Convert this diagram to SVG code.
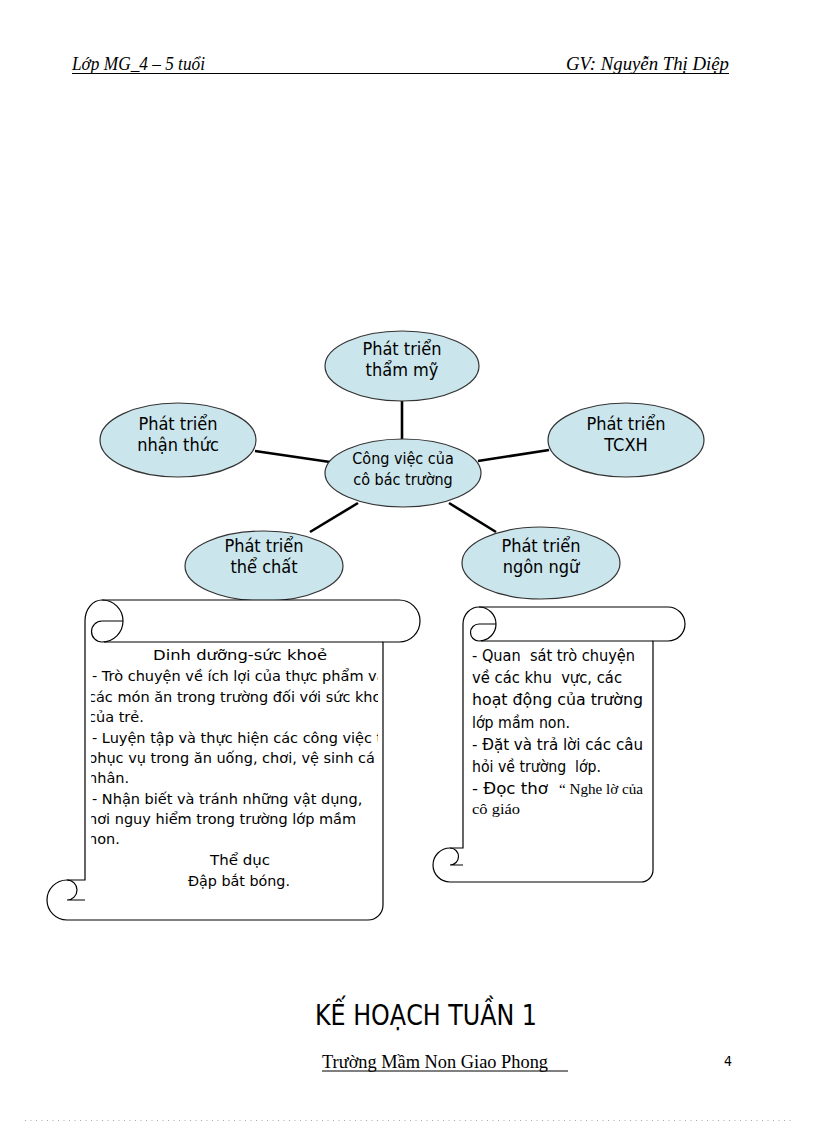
<svg xmlns="http://www.w3.org/2000/svg" width="816" height="1123" viewBox="0 0 816 1123">
<defs>
<style>
.bg{fill:#ffffff}
.node ellipse{fill:#cae5eb;stroke:#333;stroke-width:1.2}
.nt{font-family:"DejaVu Sans Condensed","DejaVu Sans",sans-serif;font-stretch:condensed;font-size:18px;fill:#000;text-anchor:middle}
.ct{font-size:16px}
.conn line{stroke:#000;stroke-width:2.6}
.scroll path{fill:none;stroke:#000;stroke-width:1.2}
.scroll path.body{fill:#fff}
.st{font-family:"DejaVu Sans",sans-serif;font-size:14.5px;fill:#000}
.st2{font-family:"DejaVu Sans Condensed","DejaVu Sans",sans-serif;font-stretch:condensed;font-size:16px;fill:#000}
.tm{font-family:"Liberation Serif",serif;font-size:15px;font-stretch:normal}
.hd{font-family:"Liberation Serif",serif;font-style:italic;font-size:18px;fill:#000}
</style>
<clipPath id="clipL"><rect x="91" y="644" width="287" height="272"/></clipPath>
</defs>
<rect class="bg" x="0" y="0" width="816" height="1123"/>

<g id="header">
<text class="hd" x="72" y="70" textLength="133" lengthAdjust="spacingAndGlyphs">Lớp MG_4 – 5 tuổi</text>
<text class="hd" x="566" y="70" textLength="163" lengthAdjust="spacingAndGlyphs">GV: Nguyễn Thị Diệp</text>
<line x1="72" y1="73.5" x2="729" y2="73.5" stroke="#000" stroke-width="1"/>
</g>

<g id="connectors" class="conn">
<line x1="402" y1="400" x2="402" y2="440"/>
<line x1="255" y1="451" x2="330" y2="462"/>
<line x1="478" y1="461" x2="549" y2="450"/>
<line x1="310" y1="532" x2="358" y2="503"/>
<line x1="449" y1="503" x2="496" y2="532"/>
</g>

<g id="node-center" class="node">
<ellipse cx="403" cy="473" rx="78" ry="34"/>
<text class="nt ct" x="403" y="464">Công việc của</text>
<text class="nt ct" x="403" y="485">cô bác trường</text>
</g>
<g id="node-thammy" class="node">
<ellipse cx="402" cy="366" rx="77" ry="35"/>
<text class="nt" x="402" y="355">Phát triển</text>
<text class="nt" x="402" y="376">thẩm mỹ</text>
</g>
<g id="node-nhanthuc" class="node">
<ellipse cx="178" cy="440" rx="78" ry="37"/>
<text class="nt" x="178" y="430">Phát triển</text>
<text class="nt" x="178" y="451">nhận thức</text>
</g>
<g id="node-tcxh" class="node">
<ellipse cx="626" cy="440" rx="78" ry="37"/>
<text class="nt" x="626" y="430">Phát triển</text>
<text class="nt" x="626" y="451">TCXH</text>
</g>
<g id="node-thechat" class="node">
<ellipse cx="264" cy="566" rx="79" ry="35"/>
<text class="nt" x="264" y="552">Phát triển</text>
<text class="nt" x="264" y="573">thể chất</text>
</g>
<g id="node-ngonngu" class="node">
<ellipse cx="541" cy="563" rx="79" ry="36"/>
<text class="nt" x="541" y="552">Phát triển</text>
<text class="nt" x="541" y="573">ngôn ngữ</text>
</g>

<g id="scroll-left" class="scroll">
<path class="body" d="M102,600 L399,600 A21,21 0 0 1 399,642 L383,642 L383,905 A15,15 0 0 1 368,920 L67,920 A20,20 0 0 1 67,880 L85,880 L85,621 A17,21 0 0 1 102,600 Z"/>
<path d="M104,642 L383,642"/>
<path d="M102,600 A21,21 0 0 1 102,642 A10.5,10.5 0 0 1 102,621 L123,621"/>
<path d="M67,880 A10,10 0 0 1 67,900 L85,900"/>
<g clip-path="url(#clipL)">
<text class="st" x="153" y="660" font-size="18" textLength="174" lengthAdjust="spacingAndGlyphs">Dinh dưỡng-sức khoẻ</text>
<text class="st" x="92" y="681">- Trò chuyện về ích lợi của thực phẩm và</text>
<text class="st" x="88" y="702">các món ăn trong trường đối với sức khoẻ</text>
<text class="st" x="88" y="722">của trẻ.</text>
<text class="st" x="92" y="743">- Luyện tập và thực hiện các công việc tự</text>
<text class="st" x="88" y="763">phục vụ trong ăn uống, chơi, vệ sinh cá</text>
<text class="st" x="88" y="783">nhân.</text>
<text class="st" x="92" y="804">- Nhận biết và tránh những vật dụng,</text>
<text class="st" x="88" y="824">nơi nguy hiểm trong trường lớp mầm</text>
<text class="st" x="88" y="844">non.</text>
<text class="st" x="210" y="865" font-size="16" textLength="60" lengthAdjust="spacingAndGlyphs">Thể dục</text>
<text class="st" x="188" y="886" textLength="102" lengthAdjust="spacingAndGlyphs">Đập bắt bóng.</text>
</g>
</g>

<g id="scroll-right" class="scroll">
<path class="body" d="M479,607 L668,607 A17,17 0 0 1 668,641 L653,641 L653,870 A12,12 0 0 1 641,882 L450,882 A17,17 0 0 1 450,848 L463,848 L463,624 A16,17 0 0 1 479,607 Z"/>
<path d="M481,641 L653,641"/>
<path d="M479,607 A17,17 0 0 1 479,641 A8.5,8.5 0 0 1 479,624 L496,624"/>
<path d="M450,848 A8.5,8.5 0 0 1 450,865 L463,865"/>
<text class="st2" x="472" y="661" xml:space="preserve" textLength="163" lengthAdjust="spacingAndGlyphs">- Quan  sát trò chuyện</text>
<text class="st2" x="472" y="683" xml:space="preserve" textLength="150" lengthAdjust="spacingAndGlyphs">về các khu  vực, các</text>
<text class="st2" x="472" y="705" textLength="171" lengthAdjust="spacingAndGlyphs">hoạt động của trường</text>
<text class="st2" x="472" y="728" textLength="98" lengthAdjust="spacingAndGlyphs">lớp mầm non.</text>
<text class="st2" x="472" y="750" textLength="171" lengthAdjust="spacingAndGlyphs">- Đặt và trả lời các câu</text>
<text class="st2" x="472" y="772" xml:space="preserve" textLength="129" lengthAdjust="spacingAndGlyphs">hỏi về trường  lớp.</text>
<text class="st2" x="472" y="794" textLength="76" lengthAdjust="spacingAndGlyphs">- Đọc thơ</text>
<text class="tm" x="559" y="794" textLength="84" lengthAdjust="spacingAndGlyphs">“ Nghe lờ của</text>
<text class="tm" x="472" y="814" textLength="48" lengthAdjust="spacingAndGlyphs">cô giáo</text>
</g>

<g id="footer">
<text x="315" y="1025" font-family="DejaVu Sans Condensed,DejaVu Sans,sans-serif" font-stretch="condensed" font-size="29" fill="#000" textLength="222" lengthAdjust="spacingAndGlyphs">KẾ HOẠCH TUẦN 1</text>
<text x="322" y="1068" font-family="Liberation Serif,serif" font-size="18" fill="#000" textLength="226" lengthAdjust="spacingAndGlyphs">Trường Mầm Non Giao Phong</text>
<line x1="322" y1="1071" x2="568" y2="1071" stroke="#000" stroke-width="1"/>
<text x="724" y="1066" font-family="DejaVu Sans Condensed,DejaVu Sans,sans-serif" font-stretch="condensed" font-size="14" fill="#000">4</text>
<line x1="25" y1="1120.5" x2="795" y2="1120.5" stroke="#aaa" stroke-width="1" stroke-dasharray="1,4.5"/>
</g>
</svg>
